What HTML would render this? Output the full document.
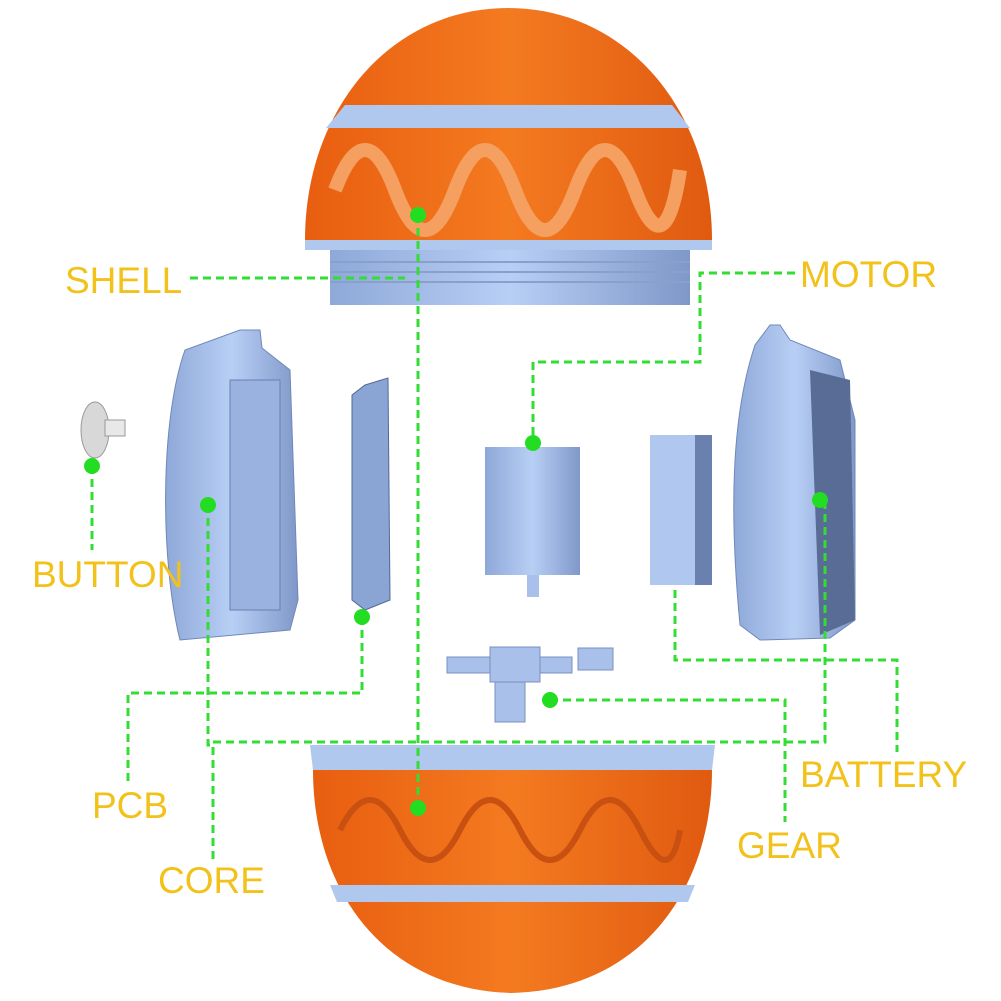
<!DOCTYPE html>
<html><head><style>
html,body{margin:0;padding:0;background:#fff;}
svg{display:block}
text{font-family:"Liberation Sans",sans-serif;fill:#f2c21a;font-size:37px;}
</style></head><body>
<svg width="1001" height="1001" viewBox="0 0 1001 1001">
<defs>
<linearGradient id="bl" x1="0" x2="1"><stop offset="0" stop-color="#8ea8d8"/><stop offset=".5" stop-color="#b8cff5"/><stop offset="1" stop-color="#7f98c8"/></linearGradient>
<linearGradient id="or" x1="0" x2="1"><stop offset="0" stop-color="#e85e10"/><stop offset=".5" stop-color="#f47a20"/><stop offset="1" stop-color="#e05a10"/></linearGradient>
</defs>
<!-- top shell -->
<path d="M305,240 C305,110 390,8 508,8 C626,8 712,110 712,240 Z" fill="url(#or)"/>
<path d="M345,105 L672,105 L690,128 L326,128 Z" fill="#b0c8ee"/>
<path d="M400,30 L615,30 L640,50 L375,50 Z" fill="#b0c8ee" opacity=".0"/>
<path d="M335,190 q30,-80 60,0 t60,0 t60,0 t60,0 t60,0 t45,-20" fill="none" stroke="#f5a060" stroke-width="14"/>
<rect x="305" y="240" width="407" height="10" fill="#b0c8ee"/>
<rect x="330" y="250" width="360" height="55" fill="url(#bl)"/>
<g stroke="#8aa0cc" stroke-width="2"><line x1="330" y1="262" x2="690" y2="262"/><line x1="330" y1="272" x2="690" y2="272"/><line x1="330" y1="282" x2="690" y2="282"/></g>
<!-- bottom shell -->
<path d="M310,745 L715,745 L712,770 L313,770 Z" fill="#b0c8ee"/>
<path d="M313,770 L712,770 C712,890 640,990 512,993 C384,990 313,890 313,770 Z" fill="url(#or)"/>
<path d="M330,885 L695,885 L688,902 L337,902 Z" fill="#b0c8ee"/>
<path d="M340,830 q30,-60 60,0 t60,0 t60,0 t60,0 t60,0 t40,0" fill="none" stroke="#c85010" stroke-width="6"/>
<!-- button -->
<ellipse cx="95" cy="430" rx="14" ry="28" fill="#d8d8d8" stroke="#999"/>
<rect x="105" y="420" width="20" height="16" fill="#e8e8e8" stroke="#999"/>
<!-- left core -->
<path d="M240,330 L260,330 L262,348 L290,370 L298,600 L290,630 L180,640 C160,560 160,420 185,350 Z" fill="url(#bl)" stroke="#7088b8"/>
<rect x="230" y="380" width="50" height="230" fill="#9ab2e0" stroke="#6880b0"/>
<!-- pcb -->
<path d="M365,385 L388,378 L390,600 L365,610 L352,600 L352,395 Z" fill="#8aa4d4" stroke="#50689a"/>
<!-- motor -->
<rect x="485" y="447" width="95" height="128" fill="url(#bl)"/>
<rect x="527" y="575" width="12" height="22" fill="#a8c0ea"/>
<!-- battery -->
<rect x="650" y="435" width="45" height="150" fill="#b0c8f0"/>
<rect x="695" y="435" width="17" height="150" fill="#6a80ae"/>
<!-- right core -->
<path d="M770,325 L780,325 L790,340 L840,360 L855,420 L855,620 L830,638 L760,640 L740,625 C730,520 730,420 755,345 Z" fill="url(#bl)" stroke="#7088b8"/>
<path d="M810,370 L850,380 L855,620 L820,635 Z" fill="#586c96"/>
<!-- gears -->
<rect x="447" y="657" width="125" height="16" fill="#a8c0ea" stroke="#7890c0"/>
<rect x="490" y="647" width="50" height="35" fill="#a8c0ea" stroke="#7890c0"/>
<rect x="495" y="682" width="30" height="40" fill="#a8c0ea" stroke="#7890c0"/>
<rect x="578" y="648" width="35" height="22" fill="#a8c0ea" stroke="#7890c0"/>
<!-- dashed lines -->
<g fill="none" stroke="#33dd33" stroke-width="3" stroke-dasharray="8,5">
<path d="M190,278 L405,278"/>
<path d="M418,215 L418,808"/>
<path d="M795,273 L700,273 L700,362 L533,362 L533,443"/>
<path d="M92,466 L92,550"/>
<path d="M208,505 L208,745 L213,745 L213,862"/>
<path d="M213,742 L825,742 L825,500"/>
<path d="M362,617 L362,693 L128,693 L128,782"/>
<path d="M550,700 L785,700 L785,822"/>
<path d="M675,590 L675,660 L897,660 L897,752"/>
</g>
<g fill="#22dd22">
<circle cx="418" cy="215" r="8"/><circle cx="418" cy="808" r="8"/>
<circle cx="533" cy="443" r="8"/><circle cx="92" cy="466" r="8"/>
<circle cx="208" cy="505" r="8"/><circle cx="820" cy="500" r="8"/>
<circle cx="362" cy="617" r="8"/><circle cx="550" cy="700" r="8"/>
</g>
<text x="65" y="293">SHELL</text>
<text x="800" y="287">MOTOR</text>
<text x="32" y="587">BUTTON</text>
<text x="92" y="818">PCB</text>
<text x="158" y="893">CORE</text>
<text x="800" y="787">BATTERY</text>
<text x="737" y="858">GEAR</text>
</svg>
</body></html>
